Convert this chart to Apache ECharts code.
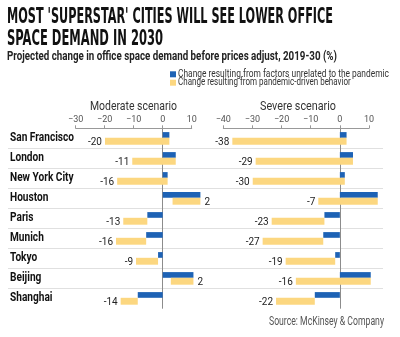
<!DOCTYPE html>
<html>
<head>
<meta charset="utf-8">
<script src="https://cdn.jsdelivr.net/npm/echarts@6/dist/echarts.min.js"></script>
<style>html,body{margin:0;padding:0;background:#fff}#c{width:400px;height:337px}</style>
</head>
<body>
<div id="c"></div>
<script>
// ---- data ----
const cities = ['San Francisco','London','New York City','Houston','Paris','Munich','Tokyo','Beijing','Shanghai'];
// change from factors unrelated to the pandemic (same in both scenarios)
const unrelated = [2.3, 4.5, 1.7, 13.0, -5.3, -5.7, -1.6, 10.6, -8.6];
// net change after pandemic-driven behavior (end of yellow bar)
const moderateNet = [-19.9, -10.5, -15.7, 3.4, -13.6, -16.1, -9.2, 2.8, -14.5];
const severeNet = [-36.9, -28.9, -29.9, -7.4, -23.4, -26.5, -18.6, -15.1, -21.9];
// printed labels
const moderateLabels = ['-20','-11','-16','2','-13','-16','-9','2','-14'];
const severeLabels = ['-38','-29','-30','-7','-23','-27','-19','-16','-22'];
const moderateTicks = [-30, -20, -10, 0, 10];
const severeTicks = [-40, -30, -20, -10, 0, 10];
const seriesNames = ['Change resulting from factors unrelated to the pandemic', 'Change resulting from pandemic-driven behavior'];
const scenarioNames = ['Moderate scenario', 'Severe scenario'];
const titleLines = ["MOST 'SUPERSTAR' CITIES WILL SEE LOWER OFFICE", 'SPACE DEMAND IN 2030'];
const subtitle = 'Projected change in office space demand before prices adjust, 2019-30 (%)';
const source = 'Source: McKinsey & Company';

const BLUE = '#1d62b5';
const YELLOW = '#fcd780';
const BASE = "Roboto,'Liberation Sans',sans-serif";
const HEAVY = "'DejaVu Sans Condensed','DejaVu Sans',sans-serif";

const mctx = document.createElement('canvas').getContext('2d');
function textW(text, font) { mctx.font = font; return mctx.measureText(text).width; }
function fitScale(text, font, target) { return target / textW(text, font); }

const catFont = 'bold 12.5px ' + BASE;
const catScale = fitScale('San Francisco', catFont, 64);
const lblFont = '11.5px ' + BASE;
const lblScale = fitScale('-20', lblFont, 14);

function blueItem(params, api) {
  const i = api.value(0), v = api.value(1);
  const p0 = api.coord([0, i]), p1 = api.coord([v, i]);
  const h = api.size([0, 1])[1];
  const top = p0[1] - h * 0.31, bot = p0[1] - h * 0.025;
  return { type: 'rect', shape: { x: Math.min(p0[0], p1[0]), y: top, width: Math.abs(p1[0] - p0[0]), height: bot - top }, style: { fill: BLUE } };
}
function yellowMaker(labels) {
  return function (params, api) {
    const i = api.value(0), s = api.value(1), e = api.value(2);
    const ps = api.coord([s, i]), pe = api.coord([e, i]);
    const h = api.size([0, 1])[1];
    const top = ps[1] - h * 0.025, bot = ps[1] + h * 0.32;
    const xmin = Math.min(ps[0], pe[0]), xmax = Math.max(ps[0], pe[0]);
    const pos = e >= 0;
    return {
      type: 'group',
      children: [
        { type: 'rect', shape: { x: xmin, y: top, width: xmax - xmin, height: bot - top }, style: { fill: YELLOW } },
        { type: 'text', x: pos ? xmax + 4 : xmin - 3, y: (top + bot) / 2 + 1, scaleX: lblScale,
          style: { text: labels[params.dataIndex], fill: '#222', font: lblFont, align: pos ? 'left' : 'right', verticalAlign: 'middle' } }
      ]
    };
  };
}
function cityItem(params, api) {
  const i = api.value(0);
  const p = api.coord([0, i]);
  return { type: 'text', x: p[0] + 2, y: p[1], scaleX: catScale,
    style: { text: cities[params.dataIndex], font: catFont, fill: '#111', align: 'left', verticalAlign: 'middle' } };
}

const cityData = cities.map((c, i) => [i]);
const blueData = cities.map((c, i) => [i, unrelated[i]]);
const modYellow = cities.map((c, i) => [i, unrelated[i], moderateNet[i]]);
const sevYellow = cities.map((c, i) => [i, unrelated[i], severeNet[i]]);

function xAxisFor(grid, ticks) {
  return {
    gridIndex: grid, type: 'value', position: 'top',
    min: ticks[0], max: ticks[ticks.length - 1], interval: 10,
    axisLine: { show: true, onZero: false, lineStyle: { color: '#999', width: 1 } },
    axisTick: { show: true, length: 3, lineStyle: { color: '#999' } },
    axisLabel: { fontSize: 9, color: '#555', margin: 4, fontFamily: BASE, formatter: v => String(v).replace('-', '\u2212') },
    splitLine: { show: false }
  };
}
function yAxisFor(grid) {
  return {
    gridIndex: grid, type: 'category', inverse: true, data: cities,
    axisLabel: { show: false }, axisTick: { show: false },
    axisLine: { show: true, onZero: true, lineStyle: { color: '#8c8c8c', width: 1 } },
    splitLine: { show: false }
  };
}

const chart = echarts.init(document.getElementById('c'), null, { renderer: 'canvas' });
const tFont = 'bold 22px ' + HEAVY;
const sFont = 'bold 13.5px ' + BASE;
const nFont = '13.5px ' + BASE;
const legFont = '10.5px ' + BASE;
const srcFont = '13px ' + BASE;
chart.setOption({
  animation: false,
  backgroundColor: '#fff',
  graphic: [
    { type: 'text', x: 7, y: 17.5, scaleX: fitScale(titleLines[0], tFont, 326), style: { text: titleLines[0], font: tFont, fill: '#111', verticalAlign: 'middle' } },
    { type: 'text', x: 7, y: 39.5, scaleX: fitScale(titleLines[1], tFont, 156), style: { text: titleLines[1], font: tFont, fill: '#111', verticalAlign: 'middle' } },
    { type: 'text', x: 7, y: 57, scaleX: fitScale(subtitle, sFont, 330), style: { text: subtitle, font: sFont, fill: '#222', verticalAlign: 'middle' } },
    // legend
    { type: 'rect', shape: { x: 170, y: 71.3, width: 6, height: 6 }, style: { fill: BLUE } },
    { type: 'text', x: 178, y: 74.3, scaleX: fitScale(seriesNames[0], legFont, 211), style: { text: seriesNames[0], font: legFont, fill: '#333', verticalAlign: 'middle' } },
    { type: 'rect', shape: { x: 170, y: 79.7, width: 6, height: 6 }, style: { fill: YELLOW } },
    { type: 'text', x: 178, y: 82.7, scaleX: fitScale(seriesNames[1], legFont, 172.7), style: { text: seriesNames[1], font: legFont, fill: '#333', verticalAlign: 'middle' } },
    // scenario headings
    { type: 'text', x: 133.5 - 43.5, y: 106.5, scaleX: fitScale(scenarioNames[0], nFont, 87), style: { text: scenarioNames[0], font: nFont, fill: '#333', verticalAlign: 'middle' } },
    { type: 'text', x: 298 - 38, y: 106.5, scaleX: fitScale(scenarioNames[1], nFont, 76), style: { text: scenarioNames[1], font: nFont, fill: '#333', verticalAlign: 'middle' } },
    // source
    { type: 'text', x: 269, y: 322, scaleX: fitScale(source, srcFont, 115), style: { text: source, font: srcFont, fill: '#555', verticalAlign: 'middle' } }
  ],
  grid: [
    { left: 75.7, top: 128.3, width: 116, height: 180 },
    { left: 223.3, top: 128.3, width: 145.7, height: 180 },
    { left: 8, top: 128.3, width: 375, height: 180 }
  ],
  xAxis: [
    xAxisFor(0, moderateTicks),
    xAxisFor(1, severeTicks),
    { gridIndex: 2, type: 'value', show: false, min: 0, max: 1 }
  ],
  yAxis: [
    yAxisFor(0), yAxisFor(1),
    {
      gridIndex: 2, type: 'category', inverse: true, data: cities,
      axisLine: { show: false }, axisTick: { show: false }, axisLabel: { show: false },
      splitLine: { show: true, showMinLine: false, showMaxLine: false, lineStyle: { color: '#e0e0e0', width: 1 } }
    }
  ],
  series: [
    { type: 'custom', name: 'cities', xAxisIndex: 2, yAxisIndex: 2, encode: { x: -1, y: 0 }, data: cityData, renderItem: cityItem, z: 3 },
    { type: 'custom', name: seriesNames[0], xAxisIndex: 0, yAxisIndex: 0, encode: { x: 1, y: 0 }, data: blueData, renderItem: blueItem, z: 3 },
    { type: 'custom', name: seriesNames[1], xAxisIndex: 0, yAxisIndex: 0, encode: { x: [1, 2], y: 0 }, data: modYellow, renderItem: yellowMaker(moderateLabels), z: 3 },
    { type: 'custom', name: seriesNames[0], xAxisIndex: 1, yAxisIndex: 1, encode: { x: 1, y: 0 }, data: blueData, renderItem: blueItem, z: 3 },
    { type: 'custom', name: seriesNames[1], xAxisIndex: 1, yAxisIndex: 1, encode: { x: [1, 2], y: 0 }, data: sevYellow, renderItem: yellowMaker(severeLabels), z: 3 }
  ]
});
</script>
</body>
</html>
